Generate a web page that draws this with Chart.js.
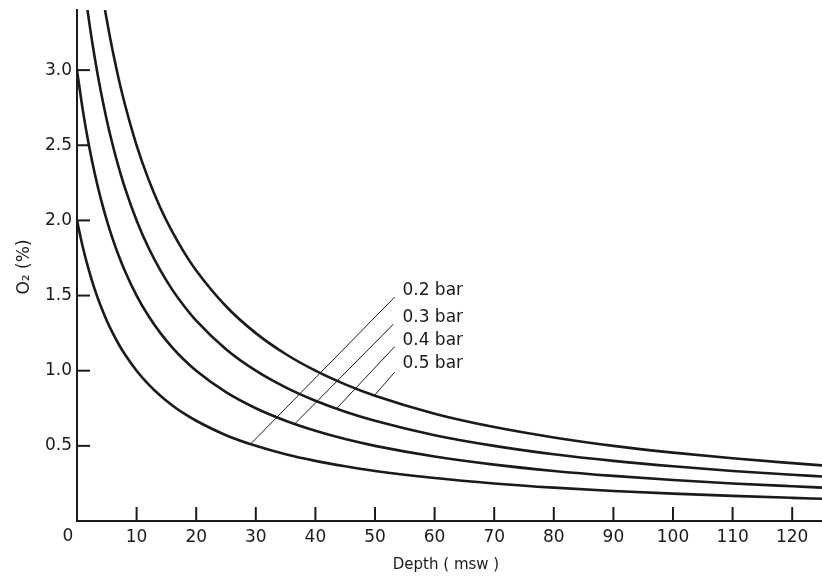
<!DOCTYPE html>
<html>
<head>
<meta charset="utf-8">
<script src="https://cdn.jsdelivr.net/npm/chart.js@4"></script>
<style>
html,body{margin:0;padding:0;background:#fff;}
canvas{display:block;}
</style>
</head>
<body>
<canvas id="c" width="822" height="581"></canvas>
<script>
// Depth (msw)
const depths = [0, 1, 2, 3, 4, 5, 6, 7, 8, 10, 12, 14, 16, 18, 20, 25, 30, 35, 40, 45, 50, 60, 70, 80, 90, 100, 110, 120, 125];
// O2 (%)
const o2_02bar = [2.000, 1.818, 1.667, 1.538, 1.429, 1.333, 1.250, 1.176, 1.111, 1.000, 0.909, 0.833, 0.769, 0.714, 0.667, 0.571, 0.500, 0.444, 0.400, 0.364, 0.333, 0.286, 0.250, 0.222, 0.200, 0.182, 0.167, 0.154, 0.148];
const o2_03bar = [3.000, 2.727, 2.500, 2.308, 2.143, 2.000, 1.875, 1.765, 1.667, 1.500, 1.364, 1.250, 1.154, 1.071, 1.000, 0.857, 0.750, 0.667, 0.600, 0.545, 0.500, 0.429, 0.375, 0.333, 0.300, 0.273, 0.250, 0.231, 0.222];
const o2_04bar = [4.000, 3.636, 3.333, 3.077, 2.857, 2.667, 2.500, 2.353, 2.222, 2.000, 1.818, 1.667, 1.538, 1.429, 1.333, 1.143, 1.000, 0.889, 0.800, 0.727, 0.667, 0.571, 0.500, 0.444, 0.400, 0.364, 0.333, 0.308, 0.296];
const o2_05bar = [5.000, 4.545, 4.167, 3.846, 3.571, 3.333, 3.125, 2.941, 2.778, 2.500, 2.273, 2.083, 1.923, 1.786, 1.667, 1.429, 1.250, 1.111, 1.000, 0.909, 0.833, 0.714, 0.625, 0.556, 0.500, 0.455, 0.417, 0.385, 0.370];
const seriesLabels = ['0.2 bar', '0.3 bar', '0.4 bar', '0.5 bar'];
// leader lines: [curve point, label point] in data units
const leaderFrom = [[29.2, 0.515], [36.5, 0.645], [43.6, 0.75], [49.9, 0.835]];
const leaderTo = [[53.3, 1.49], [53.1, 1.31], [53.3, 1.16], [53.3, 0.99]];
const labelAnchor = [[54.6, 1.535], [54.6, 1.355], [54.6, 1.20], [54.6, 1.047]];
const xTicks = [0, 10, 20, 30, 40, 50, 60, 70, 80, 90, 100, 110, 120];
const yTicks = [0.5, 1.0, 1.5, 2.0, 2.5, 3.0];

const FONT = "'DejaVu Sans', sans-serif";
const INK = '#1a1a1a';

const allSeries = [o2_02bar, o2_03bar, o2_04bar, o2_05bar];
const datasets = allSeries.map(s => ({
  data: depths.map((d, i) => ({x: d, y: s[i]})),
  borderColor: INK, borderWidth: 2.6, pointRadius: 0,
  cubicInterpolationMode: 'monotone', fill: false
}));
leaderFrom.forEach((p, i) => {
  datasets.push({
    data: [{x: p[0], y: p[1]}, {x: leaderTo[i][0], y: leaderTo[i][1]}],
    borderColor: INK, borderWidth: 1, pointRadius: 0, tension: 0, fill: false
  });
});

const decor = {
  id: 'decor',
  afterDraw(chart) {
    const ctx = chart.ctx, xs = chart.scales.x, ys = chart.scales.y;
    ctx.save();
    ctx.strokeStyle = INK;
    ctx.lineWidth = 2;
    const x0 = xs.getPixelForValue(0), y0 = ys.getPixelForValue(0);
    yTicks.forEach(v => {
      const y = ys.getPixelForValue(v);
      ctx.beginPath(); ctx.moveTo(x0, y); ctx.lineTo(x0 + 13, y); ctx.stroke();
    });
    xTicks.forEach(v => {
      if (v === 0) return;
      const x = xs.getPixelForValue(v);
      ctx.beginPath(); ctx.moveTo(x, y0); ctx.lineTo(x, y0 - 14); ctx.stroke();
    });
    ctx.fillStyle = INK;
    ctx.font = "17px " + FONT;
    ctx.textAlign = 'center'; ctx.textBaseline = 'middle';
    ctx.fillText('0', x0 - 9, y0 + 16);
    ctx.textAlign = 'left';
    labelAnchor.forEach((p, i) => {
      ctx.fillText(seriesLabels[i], xs.getPixelForValue(p[0]), ys.getPixelForValue(p[1]));
    });
    ctx.font = "15px " + FONT;
    ctx.textAlign = 'center';
    ctx.fillText('Depth ( msw )', 446, 565);
    ctx.save();
    ctx.translate(25, 267);
    ctx.rotate(-Math.PI / 2);
    ctx.font = "17px " + FONT;
    ctx.fillText('O\u2082 (%)', 0, 0);
    ctx.restore();
    ctx.restore();
  }
};

new Chart(document.getElementById('c'), {
  type: 'line',
  data: {datasets},
  plugins: [decor],
  options: {
    responsive: false, animation: false,
    layout: {padding: {top: 10, right: 0, left: 0, bottom: 0}},
    plugins: {legend: {display: false}, tooltip: {enabled: false}},
    scales: {
      x: {
        type: 'linear', min: 0, max: 125,
        grid: {display: false, drawTicks: false},
        border: {display: true, color: INK, width: 2},
        ticks: {
          stepSize: 10, includeBounds: false, maxRotation: 0, autoSkip: false,
          padding: 6, color: INK, font: {family: FONT, size: 17},
          callback: v => (v === 0 ? '' : String(v))
        },
        afterFit(s) { s.height = 60; s.paddingLeft = 0; s.paddingRight = 0; }
      },
      y: {
        type: 'linear', min: 0, max: 3.4,
        grid: {display: false, drawTicks: false},
        border: {display: true, color: INK, width: 2},
        ticks: {
          stepSize: 0.5, includeBounds: false, autoSkip: false,
          padding: 5, color: INK, font: {family: FONT, size: 17},
          callback: v => (v === 0 ? '' : Number(v).toFixed(1))
        },
        afterFit(s) { s.width = 77; s.paddingTop = 0; s.paddingBottom = 0; }
      }
    }
  }
});
</script>
</body>
</html>
